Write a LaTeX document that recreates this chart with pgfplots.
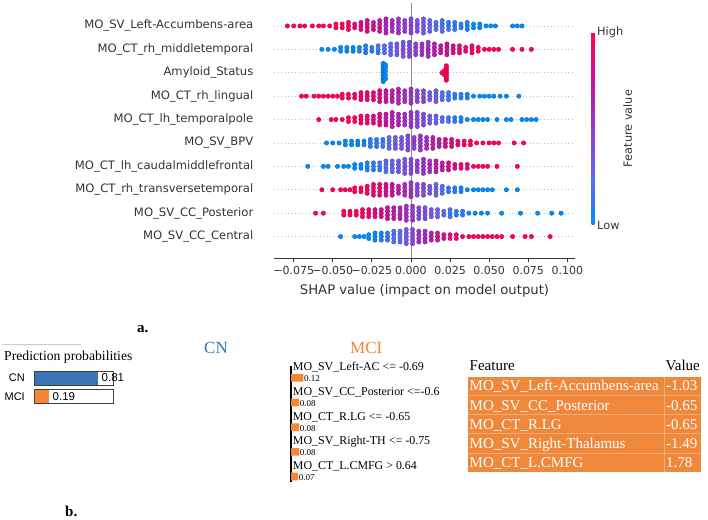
\documentclass[border=0pt]{standalone}
\usepackage{graphicx}
\usepackage{pgfplots}
\pgfplotsset{compat=1.18}
\usepackage{fontspec}
\setmainfont{Liberation Serif}
\newfontfamily\dejavu{DejaVu Sans}
\newfontfamily\arial{Liberation Sans}
\definecolor{shapgrey}{RGB}{51,51,51}
\definecolor{cnblue}{RGB}{55,118,178}
\definecolor{mcior}{RGB}{243,133,52}
\definecolor{taborange}{RGB}{240,136,60}
\begin{document}
\begin{tikzpicture}
\path[use as bounding box] (0,0) rectangle (708pt,-519pt);
\begin{axis}[
  at={(274pt,-258pt)}, anchor=south west,
  scale only axis, width=301pt, height=255pt,
  xmin=-0.0876, xmax=0.1049, ymin=0.085, ymax=10.98,
  axis x line*=bottom, axis y line*=left,
  x axis line style={-, shapgrey, line width=0.8pt},
  y axis line style={-, draw=none},
  xtick={-0.075,-0.05,-0.025,0,0.025,0.05,0.075,0.1},
  xticklabels={−0.075,−0.050,−0.025,0.000,0.025,0.050,0.075,0.100},
  xticklabel style={font=\dejavu\fontsize{11}{12}\selectfont, text=shapgrey, yshift=-1.5pt},
  x tick style={shapgrey, line width=0.8pt}, tick align=outside, major tick length=3.5pt,
  ytick={1,...,10},
  yticklabels={MO\_SV\_CC\_Central, MO\_SV\_CC\_Posterior, MO\_CT\_rh\_transversetemporal, MO\_CT\_lh\_caudalmiddlefrontal, MO\_SV\_BPV, MO\_CT\_lh\_temporalpole, MO\_CT\_rh\_lingual, Amyloid\_Status, MO\_CT\_rh\_middletemporal, MO\_SV\_Left-Accumbens-area},
  y tick style={draw=none},
  yticklabel style={font=\dejavu\fontsize{11.6}{13}\selectfont, text=shapgrey, inner sep=0pt, xshift=-17pt},
  ymajorgrids, major grid style={black!25, dash pattern=on 1pt off 2.5pt, line width=0.6pt},
  xlabel={SHAP value (impact on model output)},
  xlabel style={font=\dejavu\fontsize{13.2}{15}\selectfont, text=shapgrey, yshift=-3pt},
  colormap={shap}{rgb255=(0,138,250) rgb255=(100,105,240) rgb255=(145,60,210) rgb255=(205,15,150) rgb255=(255,0,82)},
  point meta min=0, point meta max=9,
  colorbar right,
  colorbar style={
    at={(parent axis.north east)}, anchor=north west, xshift=8pt, yshift=-29pt,
    scale only axis, width=3pt, height=193pt,
    axis line style={draw=none},
    ytick={0,9}, yticklabels={Low,High},
    ytick style={draw=none}, major tick length=0pt,
    yticklabel style={font=\dejavu\fontsize{11.3}{13}\selectfont, text=shapgrey, inner sep=2.5pt},
    ylabel={Feature value},
    ylabel style={font=\dejavu\fontsize{11.3}{13}\selectfont, text=shapgrey, at={(axis description cs:1,0.5)}, anchor=center, yshift=-33pt},
  },
]
\draw[black!45, line width=0.8pt] (axis cs:0,0.085) -- (axis cs:0,10.98);
\addplot[scatter, only marks, scatter src=explicit, mark=*, mark size=2.2pt] table[x index=0, y index=1, meta index=2, row sep=\\] {
-0.079 10 9\\ -0.075 10 9\\ -0.071 10 9\\ -0.068 10 9\\ -0.063 10 9\\ -0.059 10 9\\ -0.056 10 9\\
-0.052 10 9\\
-0.048 9.92 9\\ -0.048 10.08 9\\
-0.044 9.92 9\\ -0.044 10.08 9\\
-0.040 9.85 8\\ -0.040 10 9\\ -0.040 10.15 8\\
-0.036 9.92 8\\ -0.036 10.08 8\\
-0.032 9.85 8\\ -0.032 10 8\\ -0.032 10.15 7\\
-0.028 9.77 7\\ -0.028 9.92 8\\ -0.028 10.08 7\\ -0.028 10.23 7\\
-0.024 9.85 7\\ -0.024 10 7\\ -0.024 10.15 6\\
-0.020 9.77 6\\ -0.020 9.92 7\\ -0.020 10.08 6\\ -0.020 10.23 6\\
-0.016 9.7 6\\ -0.016 9.85 6\\ -0.016 10 5\\ -0.016 10.15 6\\ -0.016 10.3 6\\
-0.012 9.77 5\\ -0.012 9.92 5\\ -0.012 10.08 6\\ -0.012 10.23 5\\
-0.008 9.7 5\\ -0.008 9.85 5\\ -0.008 10 4\\ -0.008 10.15 5\\ -0.008 10.3 5\\
-0.004 9.77 5\\ -0.004 9.92 4\\ -0.004 10.08 5\\ -0.004 10.23 4\\
0.000 9.7 4\\ 0.000 9.85 4\\ 0.000 10 4\\ 0.000 10.15 4\\ 0.000 10.3 4\\
0.004 9.77 4\\ 0.004 9.92 3\\ 0.004 10.08 4\\ 0.004 10.23 3\\
0.008 9.7 3\\ 0.008 9.85 3\\ 0.008 10 3\\ 0.008 10.15 3\\ 0.008 10.3 3\\
0.012 9.77 3\\ 0.012 9.92 2\\ 0.012 10.08 3\\ 0.012 10.23 2\\
0.016 9.85 2\\ 0.016 10 2\\ 0.016 10.15 2\\
0.020 9.77 2\\ 0.020 9.92 2\\ 0.020 10.08 1\\ 0.020 10.23 2\\
0.024 9.85 2\\ 0.024 10 1\\ 0.024 10.15 1\\
0.028 9.85 1\\ 0.028 10 1\\ 0.028 10.15 1\\
0.032 9.92 1\\ 0.032 10.08 1\\
0.036 9.85 1\\ 0.036 10 0\\ 0.036 10.15 1\\
0.040 9.92 0\\ 0.040 10.08 0\\
0.044 9.92 0\\ 0.044 10.08 0\\
0.048 10 0\\
0.051 10 0\\ 0.054 10 0\\ 0.065 10 0\\ 0.068 10 0\\ 0.071 10 0\\
-0.057 9 0\\ -0.053 9 0\\
-0.049 9 0\\
-0.045 8.92 0\\ -0.045 9.08 0\\
-0.041 8.92 0\\ -0.041 9.08 0\\
-0.037 8.92 0\\ -0.037 9.08 0\\
-0.033 8.92 1\\ -0.033 9.08 0\\
-0.029 8.85 1\\ -0.029 9 1\\ -0.029 9.15 1\\
-0.025 8.92 1\\ -0.025 9.08 1\\
-0.021 8.85 1\\ -0.021 9 1\\ -0.021 9.15 2\\
-0.017 8.85 2\\ -0.017 9 2\\ -0.017 9.15 2\\
-0.013 8.77 2\\ -0.013 8.92 2\\ -0.013 9.08 3\\ -0.013 9.23 2\\
-0.009 8.77 3\\ -0.009 8.92 3\\ -0.009 9.08 3\\ -0.009 9.23 3\\
-0.005 8.7 3\\ -0.005 8.85 3\\ -0.005 9 4\\ -0.005 9.15 3\\ -0.005 9.3 3\\
-0.001 8.7 4\\ -0.001 8.85 4\\ -0.001 9 4\\ -0.001 9.15 4\\ -0.001 9.3 4\\
0.003 8.77 4\\ 0.003 8.92 4\\ 0.003 9.08 5\\ 0.003 9.23 4\\
0.007 8.77 5\\ 0.007 8.92 5\\ 0.007 9.08 5\\ 0.007 9.23 5\\
0.011 8.7 5\\ 0.011 8.85 5\\ 0.011 9 6\\ 0.011 9.15 5\\ 0.011 9.3 5\\
0.015 8.77 6\\ 0.015 8.92 6\\ 0.015 9.08 6\\ 0.015 9.23 6\\
0.019 8.85 6\\ 0.019 9 7\\ 0.019 9.15 6\\
0.023 8.77 7\\ 0.023 8.92 7\\ 0.023 9.08 7\\ 0.023 9.23 7\\
0.027 8.85 7\\ 0.027 9 8\\ 0.027 9.15 7\\
0.031 8.85 8\\ 0.031 9 8\\ 0.031 9.15 8\\
0.035 8.92 8\\ 0.035 9.08 8\\
0.039 8.85 8\\ 0.039 9 9\\ 0.039 9.15 8\\
0.043 8.92 9\\ 0.043 9.08 9\\
0.047 9 9\\ 0.050 9 9\\
0.053 9 9\\ 0.056 9 9\\ 0.065 9 9\\ 0.071 9 9\\ 0.077 9 9\\
-0.0178 7.62 0\\ -0.0178 7.7 0\\ -0.0178 7.78 0\\ -0.0178 7.86 0\\ -0.0178 7.94 0\\ -0.0178 8.02 0\\ -0.0178 8.1 0\\ -0.0178 8.18 0\\ -0.0178 8.26 0\\ -0.0178 8.34 0\\ -0.0178 8.4 0\\
-0.0163 7.74 0\\ -0.0163 7.9 0\\ -0.0163 8.06 0\\ -0.0163 8.22 0\\ -0.0163 8.34 0\\
0.0226 7.68 9\\ 0.0226 7.76 9\\ 0.0226 7.84 9\\ 0.0226 7.92 9\\ 0.0226 8.0 9\\ 0.0226 8.08 9\\ 0.0226 8.16 9\\ 0.0226 8.24 9\\ 0.0226 8.3 9\\
0.0212 7.92 9\\ 0.0212 8.0 9\\ 0.0212 8.08 9\\ 0.0198 8.0 9\\
-0.070 7 9\\ -0.067 7 9\\ -0.062 7 9\\ -0.059 7 9\\ -0.056 7 9\\ -0.053 7 9\\ -0.050 7 9\\ -0.047 7 9\\
-0.044 6.92 9\\ -0.044 7.08 9\\
-0.040 6.92 9\\ -0.040 7.08 9\\
-0.036 6.92 9\\ -0.036 7.08 8\\
-0.032 6.85 8\\ -0.032 7 8\\ -0.032 7.15 8\\
-0.028 6.85 8\\ -0.028 7 8\\ -0.028 7.15 8\\
-0.024 6.85 8\\ -0.024 7 7\\ -0.024 7.15 8\\
-0.020 6.77 7\\ -0.020 6.92 7\\ -0.020 7.08 7\\ -0.020 7.23 7\\
-0.016 6.77 7\\ -0.016 6.92 7\\ -0.016 7.08 6\\ -0.016 7.23 7\\
-0.012 6.77 6\\ -0.012 6.92 6\\ -0.012 7.08 6\\ -0.012 7.23 6\\
-0.008 6.7 6\\ -0.008 6.85 6\\ -0.008 7 5\\ -0.008 7.15 6\\ -0.008 7.3 6\\
-0.004 6.77 5\\ -0.004 6.92 5\\ -0.004 7.08 5\\ -0.004 7.23 5\\
0.000 6.7 5\\ 0.000 6.85 5\\ 0.000 7 4\\ 0.000 7.15 5\\ 0.000 7.3 5\\
0.004 6.77 4\\ 0.004 6.92 4\\ 0.004 7.08 4\\ 0.004 7.23 4\\
0.008 6.77 4\\ 0.008 6.92 4\\ 0.008 7.08 3\\ 0.008 7.23 4\\
0.012 6.85 3\\ 0.012 7 3\\ 0.012 7.15 3\\
0.016 6.77 3\\ 0.016 6.92 3\\ 0.016 7.08 2\\ 0.016 7.23 3\\
0.020 6.85 2\\ 0.020 7 2\\ 0.020 7.15 2\\
0.024 6.85 2\\ 0.024 7 1\\ 0.024 7.15 2\\
0.028 6.92 1\\ 0.028 7.08 1\\
0.032 6.92 1\\ 0.032 7.08 1\\
0.036 6.92 1\\ 0.036 7.08 0\\
0.040 7 0\\
0.044 7 0\\ 0.047 7 0\\ 0.050 7 0\\ 0.053 7 0\\ 0.057 7 0\\ 0.061 7 0\\ 0.069 7 0\\
-0.059 6 9\\ -0.051 6 9\\ -0.048 6 9\\
-0.044 6 9\\
-0.040 5.92 9\\ -0.040 6.08 9\\
-0.036 5.92 9\\ -0.036 6.08 9\\
-0.032 5.85 8\\ -0.032 6 9\\ -0.032 6.15 8\\
-0.028 5.85 8\\ -0.028 6 8\\ -0.028 6.15 8\\
-0.024 5.85 8\\ -0.024 6 8\\ -0.024 6.15 7\\
-0.020 5.77 7\\ -0.020 5.92 7\\ -0.020 6.08 7\\ -0.020 6.23 7\\
-0.016 5.77 7\\ -0.016 5.92 7\\ -0.016 6.08 6\\ -0.016 6.23 7\\
-0.012 5.7 6\\ -0.012 5.85 6\\ -0.012 6 6\\ -0.012 6.15 6\\ -0.012 6.3 6\\
-0.008 5.77 6\\ -0.008 5.92 6\\ -0.008 6.08 5\\ -0.008 6.23 6\\
-0.004 5.77 5\\ -0.004 5.92 5\\ -0.004 6.08 5\\ -0.004 6.23 5\\
0.000 5.7 5\\ 0.000 5.85 5\\ 0.000 6 4\\ 0.000 6.15 5\\ 0.000 6.3 5\\
0.004 5.7 4\\ 0.004 5.85 4\\ 0.004 6 4\\ 0.004 6.15 4\\ 0.004 6.3 4\\
0.008 5.77 4\\ 0.008 5.92 3\\ 0.008 6.08 4\\ 0.008 6.23 4\\
0.012 5.85 3\\ 0.012 6 3\\ 0.012 6.15 3\\
0.016 5.85 3\\ 0.016 6 2\\ 0.016 6.15 3\\
0.020 5.92 2\\ 0.020 6.08 2\\
0.024 5.92 2\\ 0.024 6.08 1\\
0.028 5.92 1\\ 0.028 6.08 1\\
0.032 5.92 1\\ 0.032 6.08 0\\
0.036 6 0\\
0.040 6 0\\ 0.043 6 0\\ 0.046 6 0\\ 0.049 6 0\\ 0.055 6 0\\ 0.061 6 0\\ 0.064 6 0\\ 0.071 6 0\\ 0.074 6 0\\ 0.077 6 0\\ 0.080 6 0\\
-0.054 5 0\\ -0.050 5 0\\ -0.046 5 0\\
-0.042 4.92 0\\ -0.042 5.08 0\\
-0.038 4.92 0\\ -0.038 5.08 0\\
-0.034 4.92 0\\ -0.034 5.08 0\\
-0.030 4.92 1\\ -0.030 5.08 0\\
-0.026 4.85 1\\ -0.026 5 1\\ -0.026 5.15 1\\
-0.022 4.85 1\\ -0.022 5 1\\ -0.022 5.15 1\\
-0.018 4.85 2\\ -0.018 5 2\\ -0.018 5.15 1\\
-0.014 4.77 2\\ -0.014 4.92 2\\ -0.014 5.08 2\\ -0.014 5.23 2\\
-0.010 4.77 3\\ -0.010 4.92 3\\ -0.010 5.08 2\\ -0.010 5.23 3\\
-0.006 4.77 3\\ -0.006 4.92 3\\ -0.006 5.08 3\\ -0.006 5.23 3\\
-0.002 4.7 4\\ -0.002 4.85 4\\ -0.002 5 4\\ -0.002 5.15 3\\ -0.002 5.3 4\\
0.002 4.77 4\\ 0.002 4.92 4\\ 0.002 5.08 5\\ 0.002 5.23 4\\
0.006 4.7 5\\ 0.006 4.85 5\\ 0.006 5 5\\ 0.006 5.15 5\\ 0.006 5.3 5\\
0.010 4.77 5\\ 0.010 4.92 6\\ 0.010 5.08 5\\ 0.010 5.23 5\\
0.014 4.77 6\\ 0.014 4.92 6\\ 0.014 5.08 6\\ 0.014 5.23 6\\
0.018 4.85 6\\ 0.018 5 7\\ 0.018 5.15 6\\
0.022 4.85 7\\ 0.022 5 7\\ 0.022 5.15 7\\
0.026 4.85 7\\ 0.026 5 8\\ 0.026 5.15 7\\
0.030 4.92 8\\ 0.030 5.08 8\\
0.034 4.92 8\\ 0.034 5.08 8\\
0.038 4.92 8\\ 0.038 5.08 9\\
0.042 5 9\\ 0.046 5 9\\ 0.050 5 9\\
0.053 5 9\\ 0.056 5 9\\ 0.066 5 9\\ 0.072 5 9\\
-0.066 4 0\\ -0.056 4 0\\ -0.053 4 0\\ -0.047 4 0\\ -0.043 4 0\\ -0.040 4 0\\
-0.036 3.92 0\\ -0.036 4.08 0\\
-0.032 3.92 0\\ -0.032 4.08 0\\
-0.028 3.85 1\\ -0.028 4 0\\ -0.028 4.15 1\\
-0.024 3.85 1\\ -0.024 4 1\\ -0.024 4.15 1\\
-0.020 3.85 1\\ -0.020 4 1\\ -0.020 4.15 2\\
-0.016 3.77 2\\ -0.016 3.92 2\\ -0.016 4.08 2\\ -0.016 4.23 2\\
-0.012 3.77 2\\ -0.012 3.92 2\\ -0.012 4.08 3\\ -0.012 4.23 2\\
-0.008 3.77 3\\ -0.008 3.92 3\\ -0.008 4.08 3\\ -0.008 4.23 3\\
-0.004 3.7 3\\ -0.004 3.85 3\\ -0.004 4 4\\ -0.004 4.15 3\\ -0.004 4.3 3\\
0.000 3.7 4\\ 0.000 3.85 4\\ 0.000 4 4\\ 0.000 4.15 4\\ 0.000 4.3 4\\
0.004 3.77 4\\ 0.004 3.92 4\\ 0.004 4.08 5\\ 0.004 4.23 4\\
0.008 3.7 5\\ 0.008 3.85 5\\ 0.008 4 5\\ 0.008 4.15 5\\ 0.008 4.3 5\\
0.012 3.77 5\\ 0.012 3.92 5\\ 0.012 4.08 6\\ 0.012 4.23 5\\
0.016 3.77 6\\ 0.016 3.92 6\\ 0.016 4.08 6\\ 0.016 4.23 6\\
0.020 3.85 6\\ 0.020 4 7\\ 0.020 4.15 6\\
0.024 3.85 7\\ 0.024 4 7\\ 0.024 4.15 7\\
0.028 3.92 7\\ 0.028 4.08 7\\
0.032 3.92 8\\ 0.032 4.08 8\\
0.036 3.92 8\\ 0.036 4.08 8\\
0.040 4 8\\
0.043 4 9\\ 0.046 4 9\\ 0.049 4 9\\ 0.055 4 9\\ 0.068 4 9\\
-0.057 3 9\\ -0.050 3 9\\ -0.045 3 9\\ -0.042 3 9\\ -0.039 3 9\\
-0.036 2.92 9\\ -0.036 3.08 9\\
-0.032 2.92 9\\ -0.032 3.08 9\\
-0.028 2.85 8\\ -0.028 3 8\\ -0.028 3.15 9\\
-0.024 2.77 8\\ -0.024 2.92 8\\ -0.024 3.08 8\\ -0.024 3.23 8\\
-0.020 2.77 8\\ -0.020 2.92 8\\ -0.020 3.08 8\\ -0.020 3.23 8\\
-0.016 2.77 7\\ -0.016 2.92 7\\ -0.016 3.08 7\\ -0.016 3.23 7\\
-0.012 2.77 7\\ -0.012 2.92 7\\ -0.012 3.08 6\\ -0.012 3.23 7\\
-0.008 2.85 6\\ -0.008 3 6\\ -0.008 3.15 6\\
-0.004 2.77 5\\ -0.004 2.92 6\\ -0.004 3.08 5\\ -0.004 3.23 5\\
0.000 2.7 5\\ 0.000 2.85 5\\ 0.000 3 5\\ 0.000 3.15 4\\ 0.000 3.3 5\\
0.004 2.77 4\\ 0.004 2.92 4\\ 0.004 3.08 4\\ 0.004 3.23 4\\
0.008 2.77 4\\ 0.008 2.92 3\\ 0.008 3.08 4\\ 0.008 3.23 4\\
0.012 2.85 3\\ 0.012 3 3\\ 0.012 3.15 3\\
0.016 2.77 3\\ 0.016 2.92 2\\ 0.016 3.08 3\\ 0.016 3.23 2\\
0.020 2.85 2\\ 0.020 3 2\\ 0.020 3.15 2\\
0.024 2.92 1\\ 0.024 3.08 1\\
0.028 2.92 1\\ 0.028 3.08 1\\
0.032 2.92 1\\ 0.032 3.08 0\\
0.036 3 0\\
0.040 3 0\\ 0.043 3 0\\ 0.046 3 0\\ 0.049 3 0\\ 0.052 3 0\\ 0.061 3 0\\ 0.068 3 0\\
-0.061 2 9\\ -0.056 2 9\\
-0.043 1.92 9\\ -0.043 2.08 9\\
-0.039 1.92 9\\ -0.039 2.08 9\\
-0.035 1.92 9\\ -0.035 2.08 9\\
-0.031 1.85 8\\ -0.031 2 9\\ -0.031 2.15 8\\
-0.027 1.85 8\\ -0.027 2 8\\ -0.027 2.15 8\\
-0.023 1.85 8\\ -0.023 2 8\\ -0.023 2.15 7\\
-0.019 1.85 7\\ -0.019 2 7\\ -0.019 2.15 7\\
-0.015 1.77 7\\ -0.015 1.92 7\\ -0.015 2.08 7\\ -0.015 2.23 7\\
-0.011 1.77 6\\ -0.011 1.92 6\\ -0.011 2.08 6\\ -0.011 2.23 6\\
-0.007 1.77 6\\ -0.007 1.92 6\\ -0.007 2.08 5\\ -0.007 2.23 6\\
-0.003 1.7 5\\ -0.003 1.85 5\\ -0.003 2 5\\ -0.003 2.15 5\\ -0.003 2.3 5\\
0.001 1.7 5\\ 0.001 1.85 4\\ 0.001 2 5\\ 0.001 2.15 4\\ 0.001 2.3 5\\
0.005 1.77 4\\ 0.005 1.92 4\\ 0.005 2.08 4\\ 0.005 2.23 4\\
0.009 1.77 4\\ 0.009 1.92 3\\ 0.009 2.08 4\\ 0.009 2.23 3\\
0.013 1.85 3\\ 0.013 2 3\\ 0.013 2.15 3\\
0.017 1.85 3\\ 0.017 2 2\\ 0.017 2.15 3\\
0.021 1.92 2\\ 0.021 2.08 2\\
0.025 1.85 2\\ 0.025 2 1\\ 0.025 2.15 2\\
0.029 1.92 1\\ 0.029 2.08 1\\
0.033 1.92 1\\ 0.033 2.08 1\\
0.037 2 0\\
0.041 2 0\\ 0.045 2 0\\ 0.049 2 0\\ 0.058 2 0\\ 0.070 2 0\\ 0.081 2 0\\ 0.090 2 0\\ 0.096 2 0\\
-0.045 1 0\\ -0.036 1 0\\ -0.033 1 0\\ -0.030 1 0\\
-0.027 0.92 0\\ -0.027 1.08 0\\
-0.023 0.85 0\\ -0.023 1 0\\ -0.023 1.15 0\\
-0.019 0.85 1\\ -0.019 1 1\\ -0.019 1.15 0\\
-0.015 0.85 1\\ -0.015 1 1\\ -0.015 1.15 1\\
-0.011 0.77 2\\ -0.011 0.92 2\\ -0.011 1.08 1\\ -0.011 1.23 2\\
-0.007 0.77 2\\ -0.007 0.92 2\\ -0.007 1.08 2\\ -0.007 1.23 2\\
-0.003 0.7 3\\ -0.003 0.85 3\\ -0.003 1 3\\ -0.003 1.15 3\\ -0.003 1.3 3\\
0.001 0.7 4\\ 0.001 0.85 4\\ 0.001 1 4\\ 0.001 1.15 4\\ 0.001 1.3 4\\
0.005 0.77 5\\ 0.005 0.92 5\\ 0.005 1.08 5\\ 0.005 1.23 5\\
0.009 0.77 5\\ 0.009 0.92 6\\ 0.009 1.08 5\\ 0.009 1.23 5\\
0.013 0.85 6\\ 0.013 1 6\\ 0.013 1.15 6\\
0.017 0.85 6\\ 0.017 1 7\\ 0.017 1.15 6\\
0.021 0.92 7\\ 0.021 1.08 7\\
0.025 0.92 7\\ 0.025 1.08 8\\
0.029 0.92 8\\ 0.029 1.08 8\\
0.033 1 8\\ 0.037 1 8\\
0.040 1 9\\ 0.043 1 9\\ 0.046 1 9\\ 0.049 1 9\\ 0.052 1 9\\ 0.055 1 9\\ 0.058 1 9\\ 0.065 1 9\\ 0.073 1 9\\ 0.077 1 9\\ 0.089 1 9\\
};
\end{axis}

% prediction probabilities
\begin{axis}[at={(34pt,-405.75pt)}, anchor=south west, scale only axis, width=79pt, height=37pt,
  xmin=0, xmax=1, ymin=-0.5, ymax=1.5, xbar, bar width=14pt, bar shift=0pt,
  axis line style={draw=none}, xtick=\empty, ytick={0,1}, yticklabels={MCI,CN},
  major tick length=0pt, y tick style={draw=none},
  yticklabel style={font=\arial\fontsize{11}{13}\selectfont, inner sep=0pt, xshift=-9pt},
  clip=false]
\addplot[fill=white, draw=none] coordinates {(1,0) (1,1)};
\addplot[fill=cnblue, draw=none, point meta=explicit symbolic, nodes near coords,
  nodes near coords style={font=\arial\fontsize{11.5}{13}\selectfont, anchor=west, inner sep=0pt, xshift=3.5pt, text=black}] coordinates {(0.81,1) [0.81]};
\addplot[fill=mcior, draw=none, point meta=explicit symbolic, nodes near coords,
  nodes near coords style={font=\arial\fontsize{11.5}{13}\selectfont, anchor=west, inner sep=0pt, xshift=3.5pt, text=black}] coordinates {(0.19,0) [0.19]};
\addplot[fill=none, draw=black!75, line width=0.9pt] coordinates {(1,0) (1,1)};
\end{axis}

% LIME feature contributions for MCI
\begin{axis}[at={(291pt,-481.7pt)}, anchor=south west, scale only axis, width=103pt, height=115.7pt,
  xmin=0, xmax=1, ymin=0.79, ymax=5.48, xbar, bar width=7.7pt, bar shift=0pt,
  axis x line=none, axis y line*=left, y axis line style={-, black, line width=1.6pt},
  ytick=\empty, xtick=\empty, clip=false]
\addplot[fill=mcior, draw=none, point meta=explicit symbolic, nodes near coords,
  nodes near coords style={font=\fontsize{9}{10}\selectfont, anchor=base west, inner sep=0.5pt, yshift=-4pt}]
  coordinates {(0.12,5) [0.12] (0.08,4) [0.08] (0.08,3) [0.08] (0.08,2) [0.08] (0.07,1) [0.07]};
\end{axis}
\foreach \yy/\ww/\lbl in {370.8/131/MO\_SV\_Left-AC <= -0.69, 395.5/146.6/MO\_SV\_CC\_Posterior <=-0.6, 420.2/117.3/MO\_CT\_R.LG <= -0.65, 444.9/137.3/MO\_SV\_Right-TH <= -0.75, 469.6/124/MO\_CT\_L.CMFG > 0.64} {
  \node[anchor=base west, inner sep=0pt] at (292.7pt,-\yy pt) {\resizebox{\ww pt}{!}{\fontsize{12}{14}\selectfont\lbl}};
}

% texts of panel b
\node[anchor=base west, inner sep=0pt, font=\bfseries\fontsize{15}{17}\selectfont] at (137pt,-332pt) {a.};
\node[anchor=base west, inner sep=0pt, font=\bfseries\fontsize{15}{17}\selectfont] at (65pt,-516pt) {b.};
\draw[black!20, line width=0.8pt] (2pt,-344pt) -- (81pt,-344pt);
\node[anchor=base west, inner sep=0pt, font=\fontsize{13.7}{15}\selectfont] at (4pt,-360.7pt) {Prediction probabilities};
\node[anchor=base west, inner sep=0pt, text=cnblue, font=\fontsize{17}{19}\selectfont] at (204pt,-353.3pt) {CN};
\node[anchor=base west, inner sep=0pt, text=mcior, font=\fontsize{17}{19}\selectfont] at (350pt,-353.3pt) {MCI};

% feature-value table
\node[anchor=base west, inner sep=0pt, font=\fontsize{15}{17}\selectfont] at (469.5pt,-370.7pt) {Feature};
\node[anchor=base east, inner sep=0pt, font=\fontsize{15}{17}\selectfont] at (700pt,-370.7pt) {Value};
\fill[taborange] (468pt,-377pt) rectangle (701pt,-472pt);
\foreach \yy in {395.5,414.5,433.5,453} {\draw[white, opacity=0.3, line width=0.8pt] (468pt,-\yy pt) -- (701pt,-\yy pt);}
\draw[white, opacity=0.3, line width=0.8pt] (664pt,-377pt) -- (664pt,-472pt);
\foreach \yy/\ff/\vv in {390.7/MO\_SV\_Left-Accumbens-area/-1.03, 410/MO\_SV\_CC\_Posterior/-0.65, 429.3/MO\_CT\_R.LG/-0.65, 448.3/MO\_SV\_Right-Thalamus/-1.49, 467.7/MO\_CT\_L.CMFG/1.78} {
  \node[anchor=base west, inner sep=0pt, text=white, font=\fontsize{15}{17}\selectfont] at (469.5pt,-\yy pt) {\ff};
  \node[anchor=base west, inner sep=0pt, text=white, font=\fontsize{15}{17}\selectfont] at (666pt,-\yy pt) {\vv};
}
\end{tikzpicture}
\end{document}
